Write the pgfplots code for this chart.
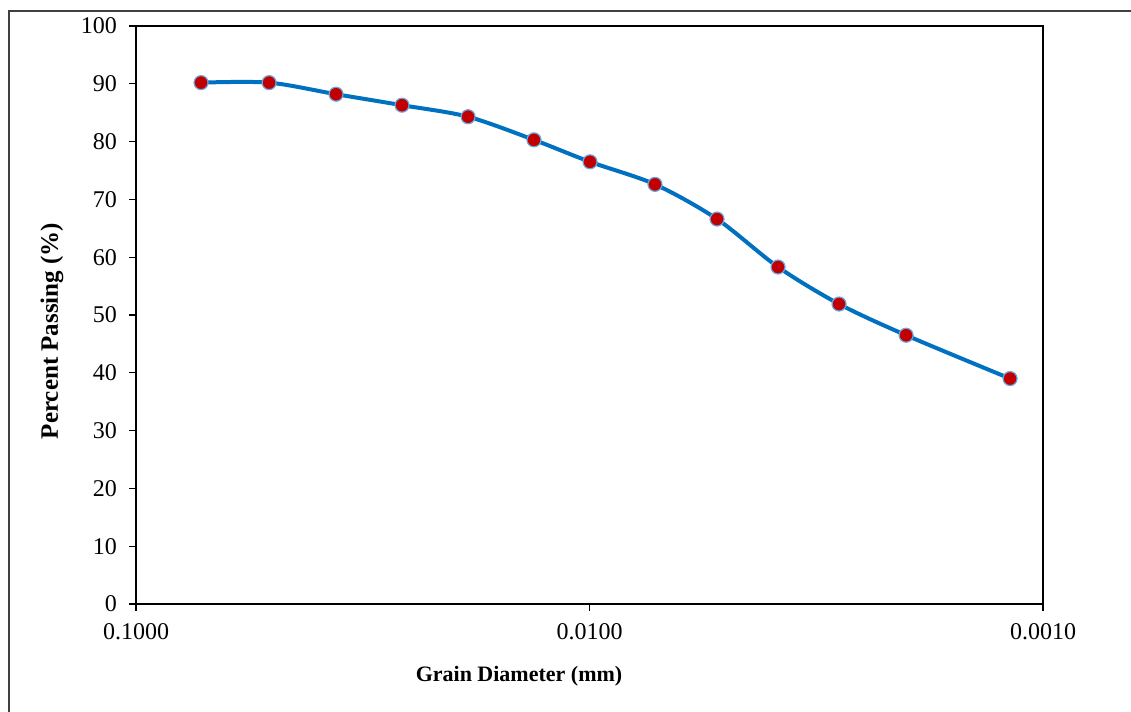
\documentclass[border=0pt]{standalone}
\usepackage{pgfplots}
\pgfplotsset{compat=1.18}
\usepackage{fontspec}
\setmainfont{Liberation Serif}
\definecolor{lineblue}{RGB}{0,112,192}
\definecolor{markred}{RGB}{192,0,0}
\definecolor{markedge}{RGB}{110,165,220}
\begin{document}
\begin{tikzpicture}[x=1pt,y=1pt]
\useasboundingbox (0,0) rectangle (565.5,356);
\draw[black!75, line width=0.6pt] (4.5,0) -- (4.5,350.5) -- (565.5,350.5);
\begin{axis}[at={(68pt,54pt)}, anchor=south west, scale only axis,
  width=453.5pt, height=289pt,
  xmode=log, x dir=reverse, xmin=0.001, xmax=0.1, ymin=0, ymax=100,
  xtick={0.1,0.01,0.001}, xticklabels={0.1000,0.0100,0.0010},
  xminorticks=false,
  ytick={0,10,...,100},
  tick align=outside, xtick pos=bottom, ytick pos=left,
  major tick length=3.5pt,
  axis line style={line width=1pt},
  every tick/.style={black, line width=0.6pt},
  ticklabel style={font=\fontsize{12}{14}\selectfont},
  xticklabel style={yshift=-2.5pt},
  yticklabel style={xshift=-2.5pt},
  /pgf/number format/assume math mode=true,
  clip=false]
\addplot[lineblue, line width=2pt, smooth, tension=0.5, mark=*, mark size=3.5pt,
  mark options={fill=markred, draw=markedge, line width=0.6pt}] coordinates {
  (0.07188,90.2) (0.05087,90.2) (0.03622,88.2) (0.02591,86.3) (0.01853,84.3)
  (0.01326,80.3) (0.009975,76.5) (0.007172,72.6) (0.005234,66.6)
  (0.003840,58.3) (0.002817,51.9) (0.002004,46.5) (0.001182,39.0)};
\end{axis}
\node[font=\bfseries\fontsize{11}{13}\selectfont] at (259.5,18) {Grain Diameter (mm)};
\node[font=\bfseries\fontsize{12.5}{14}\selectfont, rotate=90] at (26,190.5) {Percent Passing (\%)};
\end{tikzpicture}
\end{document}
